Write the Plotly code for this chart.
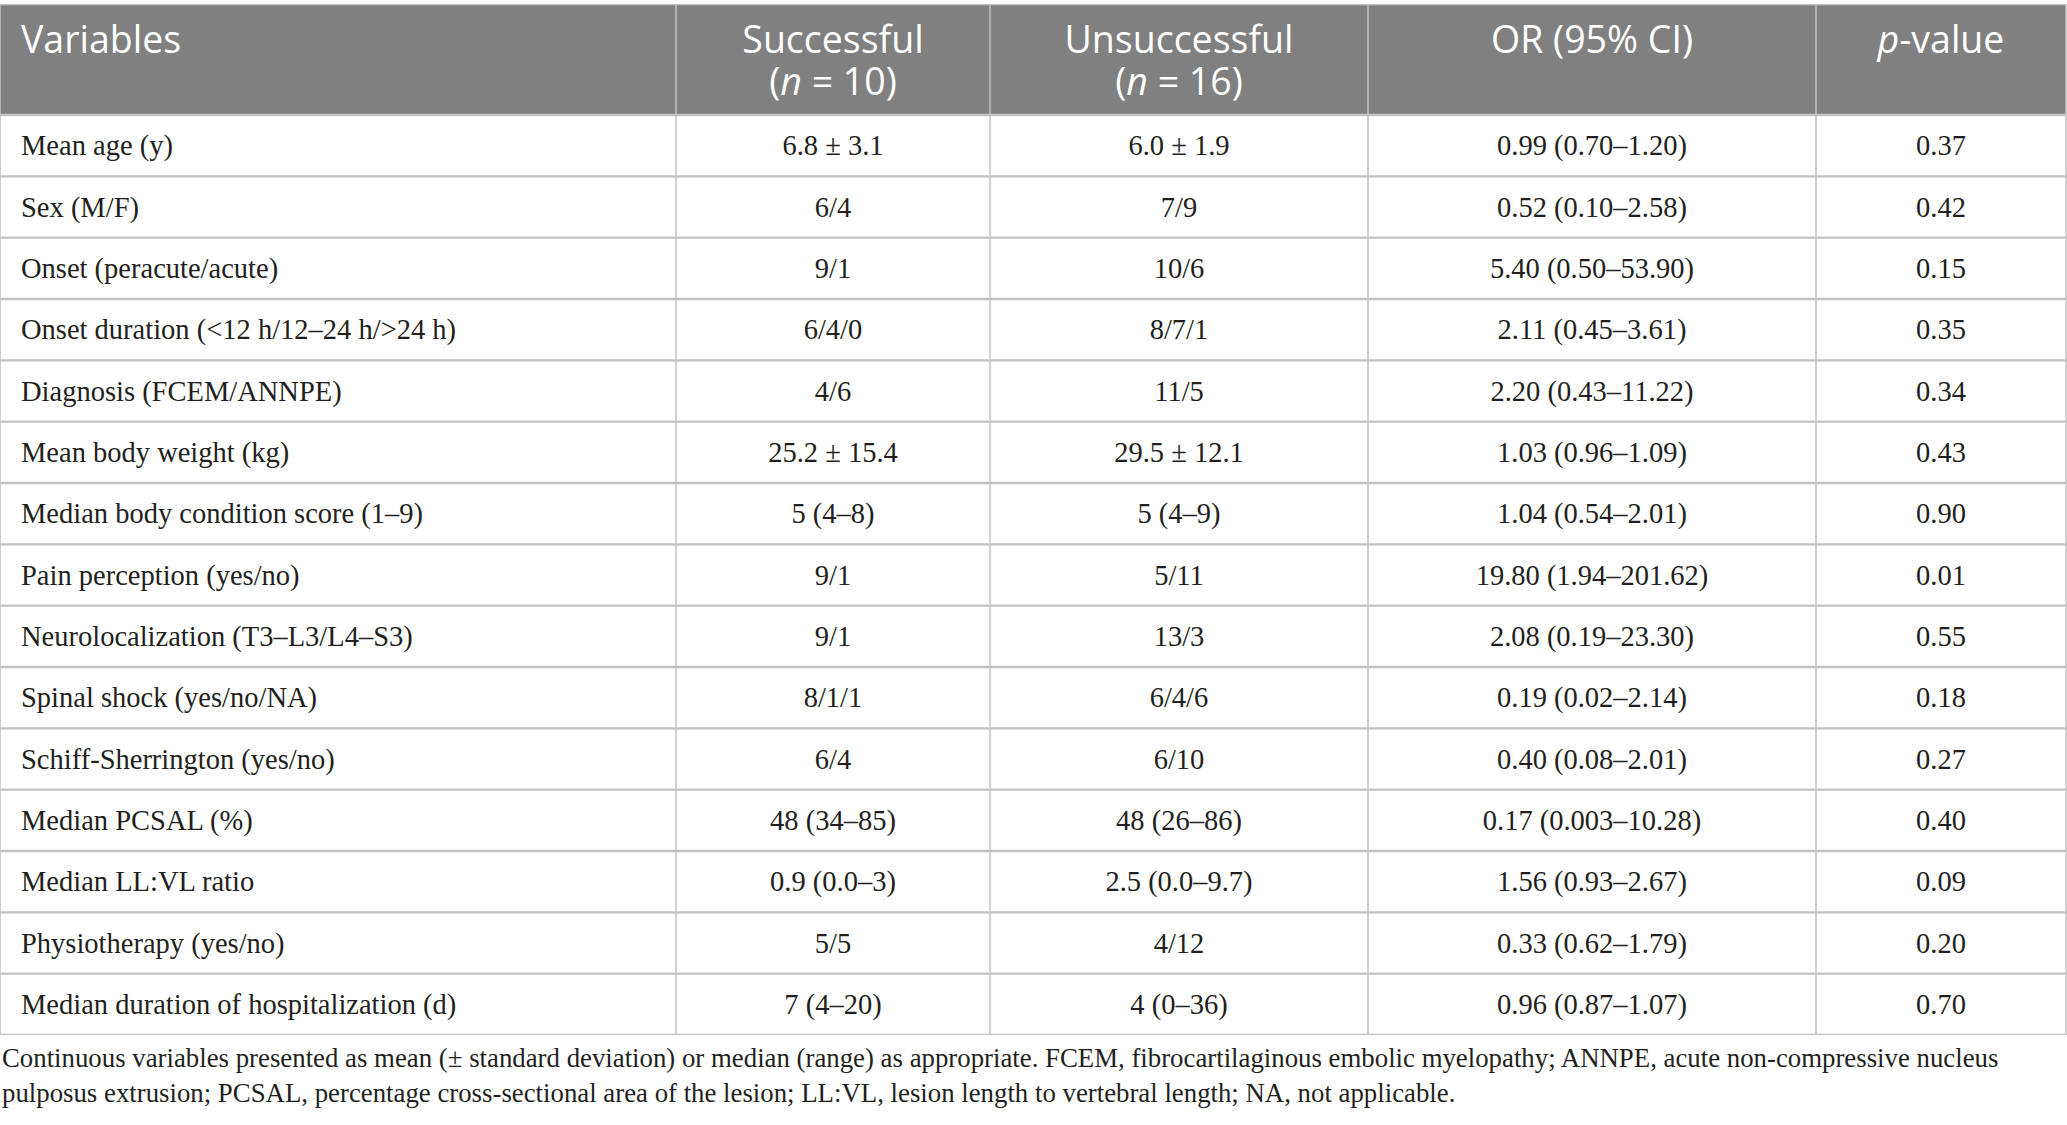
import plotly.graph_objects as go

# ---------------- data ----------------
variables = [
    "Mean age (y)",
    "Sex (M/F)",
    "Onset (peracute/acute)",
    "Onset duration (<12 h/12–24 h/>24 h)",
    "Diagnosis (FCEM/ANNPE)",
    "Mean body weight (kg)",
    "Median body condition score (1–9)",
    "Pain perception (yes/no)",
    "Neurolocalization (T3–L3/L4–S3)",
    "Spinal shock (yes/no/NA)",
    "Schiff-Sherrington (yes/no)",
    "Median PCSAL (%)",
    "Median LL:VL ratio",
    "Physiotherapy (yes/no)",
    "Median duration of hospitalization (d)",
]
successful = [
    "6.8 ± 3.1", "6/4", "9/1", "6/4/0", "4/6", "25.2 ± 15.4", "5 (4–8)", "9/1",
    "9/1", "8/1/1", "6/4", "48 (34–85)", "0.9 (0.0–3)", "5/5", "7 (4–20)",
]
unsuccessful = [
    "6.0 ± 1.9", "7/9", "10/6", "8/7/1", "11/5", "29.5 ± 12.1", "5 (4–9)", "5/11",
    "13/3", "6/4/6", "6/10", "48 (26–86)", "2.5 (0.0–9.7)", "4/12", "4 (0–36)",
]
odds_ratio = [
    "0.99 (0.70–1.20)", "0.52 (0.10–2.58)", "5.40 (0.50–53.90)", "2.11 (0.45–3.61)",
    "2.20 (0.43–11.22)", "1.03 (0.96–1.09)", "1.04 (0.54–2.01)", "19.80 (1.94–201.62)",
    "2.08 (0.19–23.30)", "0.19 (0.02–2.14)", "0.40 (0.08–2.01)", "0.17 (0.003–10.28)",
    "1.56 (0.93–2.67)", "0.33 (0.62–1.79)", "0.96 (0.87–1.07)",
]
p_values = [
    "0.37", "0.42", "0.15", "0.35", "0.34", "0.43", "0.90", "0.01",
    "0.55", "0.18", "0.27", "0.40", "0.09", "0.20", "0.70",
]
header_line1 = ["Variables", "Successful", "Unsuccessful", "OR (95% CI)", "<i>p</i>-value"]
header_line2 = ["", "(<i>n</i> = 10)", "(<i>n</i> = 16)", "", ""]
footnote_lines = [
    "Continuous variables presented as mean (± standard deviation) or median (range) as appropriate. "
    "FCEM, fibrocartilaginous embolic myelopathy; ANNPE, acute non-compressive nucleus",
    "pulposus extrusion; PCSAL, percentage cross-sectional area of the lesion; LL:VL, "
    "lesion length to vertebral length; NA, not applicable.",
]

columns = [variables, successful, unsuccessful, odds_ratio, p_values]

# ---------------- layout constants ----------------
W, H = 2067, 1125
col_edges = [0, 676, 990, 1368, 1816, 2066]
TABLE_TOP, HEADER_BOTTOM, TABLE_BOTTOM = 4, 115, 1035
HDR_L1, HDR_L2 = 44, 86          # header text line centres (px)
FOOT_Y = [1058, 1093]            # footnote line centres (px)
LEFT_PAD = 21
BODY_DY_PX = 2.5                 # small downward nudge of body text

n_rows = len(variables)
row_h = (TABLE_BOTTOM - HEADER_BOTTOM) / n_rows
y_top = -0.5 - (HEADER_BOTTOM - TABLE_TOP) / row_h
y_bottom = n_rows - 0.5


def px_to_y(p):
    return y_top + (p - TABLE_TOP) / row_h


HEADER_BG = "#808080"
LINE_C = "#c2c2c2"
TEXT_C = "#231f20"
SERIF = "Liberation Serif"
SANS = "Open Sans"

fig = go.Figure()

# body cells
rows = [i + BODY_DY_PX / row_h for i in range(n_rows)]
for j, col in enumerate(columns):
    if j == 0:
        xs = [col_edges[0] + LEFT_PAD] * n_rows
        pos = "middle right"
    else:
        xs = [(col_edges[j] + col_edges[j + 1]) / 2] * n_rows
        pos = "middle center"
    fig.add_trace(go.Scatter(
        x=xs, y=rows, text=col, mode="text", textposition=pos,
        textfont=dict(family=SERIF, size=28.5, color=TEXT_C),
        hoverinfo="skip", showlegend=False,
    ))

# header text
for line, ypx in ((header_line1, HDR_L1), (header_line2, HDR_L2)):
    xs, ys, txt, pos = [], [], [], []
    for j, t in enumerate(line):
        if not t:
            continue
        if j == 0:
            xs.append(col_edges[0] + LEFT_PAD)
            pos.append("middle right")
        else:
            xs.append((col_edges[j] + col_edges[j + 1]) / 2)
            pos.append("middle center")
        ys.append(px_to_y(ypx))
        txt.append(t)
    fig.add_trace(go.Scatter(
        x=xs, y=ys, text=txt, mode="text", textposition=pos,
        textfont=dict(family=SANS, size=37.5, color="white"),
        hoverinfo="skip", showlegend=False,
    ))

shapes = []
# header background
shapes.append(dict(type="rect", xref="x", yref="y", x0=col_edges[0], x1=col_edges[-1],
                   y0=y_top, y1=-0.5, fillcolor=HEADER_BG, line_width=0, layer="below"))
# horizontal rules
for yv in [y_top] + [i - 0.5 for i in range(n_rows + 1)]:
    shapes.append(dict(type="line", xref="x", yref="y", x0=col_edges[0], x1=col_edges[-1],
                       y0=yv, y1=yv, line=dict(color=LINE_C, width=2.4)))
# vertical rules
for xv in col_edges:
    shapes.append(dict(type="line", xref="x", yref="y", x0=xv, x1=xv,
                       y0=y_top, y1=y_bottom, line=dict(color=LINE_C, width=1.5)))

annotations = []
for k, line in enumerate(footnote_lines):
    annotations.append(dict(
        text=line, xref="paper", yref="paper", x=0, y=1 - FOOT_Y[k] / H,
        xanchor="left", yanchor="middle", showarrow=False,
        font=dict(family=SERIF, size=26.8, color=TEXT_C),
    ))

fig.update_layout(
    width=W, height=H, margin=dict(l=0, r=0, t=0, b=0),
    paper_bgcolor="white", plot_bgcolor="white",
    xaxis=dict(range=[0, W], visible=False, fixedrange=True),
    yaxis=dict(range=[y_bottom, y_top], visible=False, fixedrange=True,
               domain=[1 - TABLE_BOTTOM / H, 1 - TABLE_TOP / H]),
    shapes=shapes, annotations=annotations,
)

fig.write_html("out.html", config={"displayModeBar": False},
               post_script="document.body.style.margin='0';")
